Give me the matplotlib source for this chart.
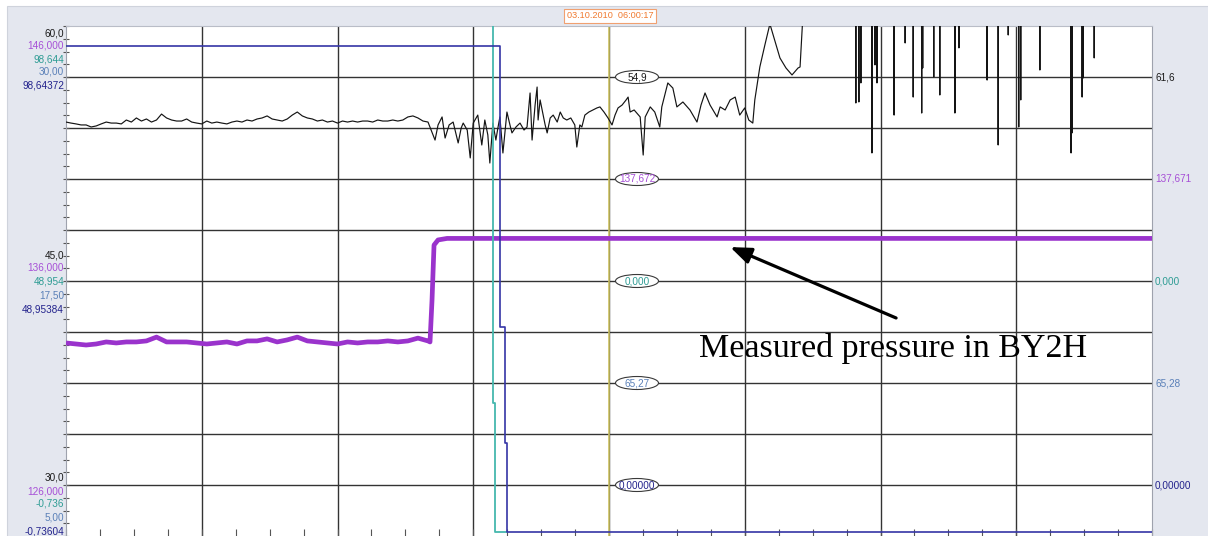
import numpy as np
import matplotlib
matplotlib.use("Agg")
import matplotlib.pyplot as plt
from matplotlib.patches import Rectangle, Ellipse
from matplotlib.ticker import MultipleLocator

# ---------------- time base (s), one grid division = 27 s ----------------
t_start, t_end = 0.0, 216.0
t_cursor = 108.0
cursor_stamp = "03.10.2010  06:00:17"

# ---------------- channel scales (bottom, top) ----------------
scale_black = (30.0, 60.0)
scale_purple = (126.0, 146.0)
scale_teal = (-0.736, 98.644)
scale_navy = (-0.73604, 98.64372)

# ---------------- black trace ----------------
black_left_t = np.arange(0, 73, 1.0)
black_left_v = [
    54.35, 54.29, 54.24, 54.18, 54.18, 54.06, 54.12, 54.24, 54.35, 54.29,
    54.29, 54.24, 54.47, 54.35, 54.59, 54.41, 54.53, 54.35, 54.47, 54.82,
    54.59, 54.47, 54.41, 54.41, 54.53, 54.35, 54.29, 54.24, 54.41, 54.29,
    54.35, 54.29, 54.24, 54.35, 54.41, 54.35, 54.47, 54.41, 54.53, 54.59,
    54.71, 54.53, 54.47, 54.41, 54.53, 54.76, 54.94, 54.71, 54.59, 54.53,
    54.41, 54.47, 54.35, 54.41, 54.29, 54.41, 54.35, 54.41, 54.35, 54.41,
    54.41, 54.35, 54.47, 54.41, 54.41, 54.47, 54.41, 54.47, 54.65, 54.71,
    54.59, 54.41, 54.35,
]
black_mid_t = [
    73.4, 74.0, 74.8, 75.4, 76.2, 77.0, 78.0, 78.6, 79.0, 79.8,
    80.4, 81.0, 81.9, 82.7, 83.3, 83.9, 84.3, 84.9, 85.5, 85.9,
    86.3, 86.9, 87.7, 88.3, 88.7, 89.5, 90.3, 91.1, 91.7, 92.3,
    92.7, 93.3, 93.7, 93.9, 94.3, 94.7, 95.3, 95.7, 96.3, 96.9,
    97.7, 98.3, 98.9, 99.6, 100.4, 101.2, 101.6, 102.2, 102.6, 103.2,
    104.0, 104.8, 105.6, 106.2, 107.0, 107.8, 108.6, 109.2, 109.8, 110.6,
    111.4, 111.8, 112.2, 113.0, 114.2, 114.8, 115.2, 116.2, 117.1, 118.1,
    118.5, 119.1, 119.7, 120.7, 121.5, 122.7, 124.1, 125.5, 126.3, 127.1,
    128.1, 129.5, 130.1, 131.1, 132.1, 133.1, 134.0, 135.0, 135.8, 136.6,
    137.0, 138.0, 139.0, 140.0, 142.0, 143.2, 144.4, 145.6, 146.0, 147.2,
]
black_mid_v = [
    53.29, 54.18, 54.65, 53.41, 54.18, 54.35, 53.12, 54.00, 54.29, 53.88,
    52.24, 54.29, 54.76, 53.00, 54.47, 53.59, 51.94, 54.29, 53.29, 54.00,
    54.65, 52.53, 54.94, 54.18, 53.71, 54.06, 54.29, 53.88, 54.06, 56.06,
    53.29, 55.35, 56.41, 54.47, 55.65, 55.06, 54.18, 53.71, 54.59, 54.76,
    54.35, 54.94, 54.59, 54.47, 54.59, 54.18, 52.88, 54.18, 54.06, 54.76,
    54.94, 55.06, 55.18, 55.24, 54.94, 54.59, 54.18, 54.76, 55.18, 55.35,
    55.65, 55.82, 54.94, 55.06, 54.65, 52.41, 54.65, 55.24, 54.94, 54.06,
    55.24, 55.94, 56.65, 56.35, 55.24, 55.53, 55.06, 54.35, 55.35, 56.06,
    55.35, 54.65, 55.24, 55.06, 55.65, 55.82, 54.76, 55.18, 54.47, 54.29,
    55.65, 57.59, 58.88, 60.12, 58.12, 57.53, 57.12, 57.53, 57.59, 64.00,
]
black_overrange = 64.0
spike_t = [157.1, 157.7, 158.1, 160.3, 160.9, 161.3, 164.7, 166.9, 168.5, 170.2,
           170.4, 172.6, 173.8, 176.8, 177.6, 183.2, 185.4, 187.4, 189.5, 189.9,
           193.7, 199.9, 200.1, 202.1, 202.3, 204.5]
spike_v = [55.47, 55.53, 56.65, 52.53, 57.71, 56.65, 54.76, 59.00, 55.82, 54.88,
           57.53, 57.00, 55.94, 54.88, 58.71, 56.82, 53.00, 59.47, 54.06, 55.65,
           57.41, 52.53, 53.71, 55.82, 56.94, 58.12]

# ---------------- purple trace (pressure) ----------------
purple_t = list(np.arange(0, 73, 2.0)) + [72.4, 72.8, 73.2, 74.0, 75.8, 216.0]
purple_v = [
    133.57, 133.53, 133.49, 133.53, 133.61, 133.57, 133.61, 133.61, 133.65, 133.80,
    133.61, 133.61, 133.61, 133.57, 133.53, 133.57, 133.61, 133.53, 133.65, 133.65,
    133.73, 133.61, 133.69, 133.80, 133.65, 133.61, 133.57, 133.53, 133.61, 133.57,
    133.61, 133.61, 133.65, 133.61, 133.65, 133.76, 133.65,
    133.61, 135.25, 137.41, 137.61, 137.67, 137.67,
]

# ---------------- navy and teal traces ----------------
navy_t = [0.0, 86.3, 86.3, 87.4, 87.4, 87.7, 87.7, 216.0]
navy_v = [94.75, 94.75, 40.0, 40.0, 17.39, 17.39, 0.0, 0.0]
teal_t = [0.0, 84.9, 84.9, 85.3, 85.3, 87.7]
teal_v = [110.0, 110.0, 25.2, 25.2, 0.0, 0.0]

# ---------------- scale labels and readouts ----------------
col_black, col_purple, col_teal, col_steel, col_navy = (
    "#1a1a1a", "#a64fd6", "#2e9c94", "#5a80b8", "#22228c")
label_colors = [col_black, col_purple, col_teal, col_steel, col_navy]
left_labels_top = ["60,0", "146,000", "98,644", "30,00", "98,64372"]
left_labels_mid = ["45,0", "136,000", "48,954", "17,50", "48,95384"]
left_labels_bot = ["30,0", "126,000", "-0,736", "5,00", "-0,73604"]
cursor_values = ["54,9", "137,672", "0,000", "65,27", "0,00000"]
end_values = ["61,6", "137,671", "0,000", "65,28", "0,00000"]
annotation_text = "Measured pressure in BY2H"

# ---------------- figure ----------------
W, H = 1208, 536
fx = lambda px: px / W
fy = lambda py: 1 - py / H

fig = plt.figure(figsize=(W / 100, H / 100), dpi=100, facecolor="white")
panel = "#e4e7ef"
fig.add_artist(Rectangle((fx(7), -0.1), 1.2, 1.1 - 6 / H,
                         transform=fig.transFigure, facecolor=panel,
                         edgecolor="#cfd3dc", lw=0.8, zorder=-5))

ax = fig.add_axes([fx(66), 0, 1086 / W, 510 / H])
ax.set_zorder(1)
ax.set_facecolor("white")
ax.set_xlim(t_start, t_end)
ax.set_ylim(*scale_black)
ax.set_xticks(np.arange(27, 190, 27))
ax.set_yticks(np.arange(33, 58, 3))
ax.xaxis.set_minor_locator(MultipleLocator(6.75))
ax.yaxis.set_minor_locator(MultipleLocator(0.75))
ax.grid(which="major", color="#333333", lw=1.0)
ax.set_axisbelow(True)
ax.tick_params(axis="y", which="both", direction="inout", length=5,
               color="#555555", width=0.8, labelleft=False)
ax.tick_params(axis="x", which="both", direction="in", length=5,
               color="#555555", width=0.8, labelbottom=False)
for side in ("left", "right"):
    ax.spines[side].set_color("#9ea2ad")
ax.spines["top"].set_color("#b9bdc7")
ax.spines["bottom"].set_visible(False)

ax.axvline(t_cursor, color="#d4c860", lw=1.1, zorder=2.5)

# black trace with its over-range spikes
bt = list(black_left_t) + black_mid_t
bv = list(black_left_v) + black_mid_v
for t, v in zip(spike_t, spike_v):
    bt += [t - 0.06, t, t + 0.06]
    bv += [black_overrange, v, black_overrange]
bt.append(t_end)
bv.append(black_overrange)
ax.plot(bt, bv, color="#141414", lw=0.85, zorder=3)


def overlay(lims):
    a = ax.twinx()
    a.set_ylim(*lims)
    a.set_axis_off()
    return a


ax_purple = overlay(scale_purple)
ax_teal = overlay(scale_teal)
ax_navy = overlay(scale_navy)

ax_purple.plot(purple_t, purple_v, color="#9a33cc", lw=3.4,
               solid_joinstyle="round", solid_capstyle="butt")
ax_navy.plot(navy_t, navy_v, color="#3535a6", lw=1.2)
ax_teal.plot(teal_t, teal_v, color="#45b8ae", lw=1.3)

# annotation
ax_purple.annotate("", xy=(132.1, 137.33), xytext=(165.1, 134.55),
                   arrowprops=dict(arrowstyle="-|>,head_length=0.9,head_width=0.35",
                                   lw=2.3, color="black", mutation_scale=14,
                                   shrinkA=0, shrinkB=0),
                   annotation_clip=False)
ax_purple.text(125.9, 133.02, annotation_text, fontsize=24.5,
               family="Liberation Serif", ha="left", va="baseline")

# left scale labels
lab_font = dict(family="Liberation Sans", fontsize=7.2)
for labels, ys in ((left_labels_top, [33, 46, 59, 72, 86]),
                   (left_labels_mid, [255, 268, 281, 295, 309]),
                   (left_labels_bot, [477, 491, 504, 517, 531])):
    for text, y, c in zip(labels, ys, label_colors):
        fig.text(fx(64), fy(y), text, color=c, ha="right", va="center", **lab_font)

# cursor readouts and end-of-window values
row_y = [77, 179, 281, 383, 485]
for text, y, c in zip(cursor_values, row_y, label_colors):
    fig.add_artist(Ellipse((fx(637), fy(y)), 43 / W, 13 / H,
                           transform=fig.transFigure, facecolor="white",
                           edgecolor="#3a3a3a", lw=0.8, zorder=10))
    fig.text(fx(637), fy(y), text, color=c, ha="center", va="center",
             zorder=11, **lab_font)
for text, y, c in zip(end_values, row_y, label_colors):
    fig.text(fx(1155), fy(y), text, color=c, ha="left", va="center", **lab_font)

# cursor time stamp in the header
fig.text(fx(610), fy(16), cursor_stamp, color="#f07a30", ha="center", va="center",
         family="Liberation Sans", fontsize=6.6,
         bbox=dict(boxstyle="square,pad=0.25", facecolor="white",
                   edgecolor="#f0a070", lw=0.8))

fig.savefig("out.png", dpi=100, facecolor=fig.get_facecolor())
